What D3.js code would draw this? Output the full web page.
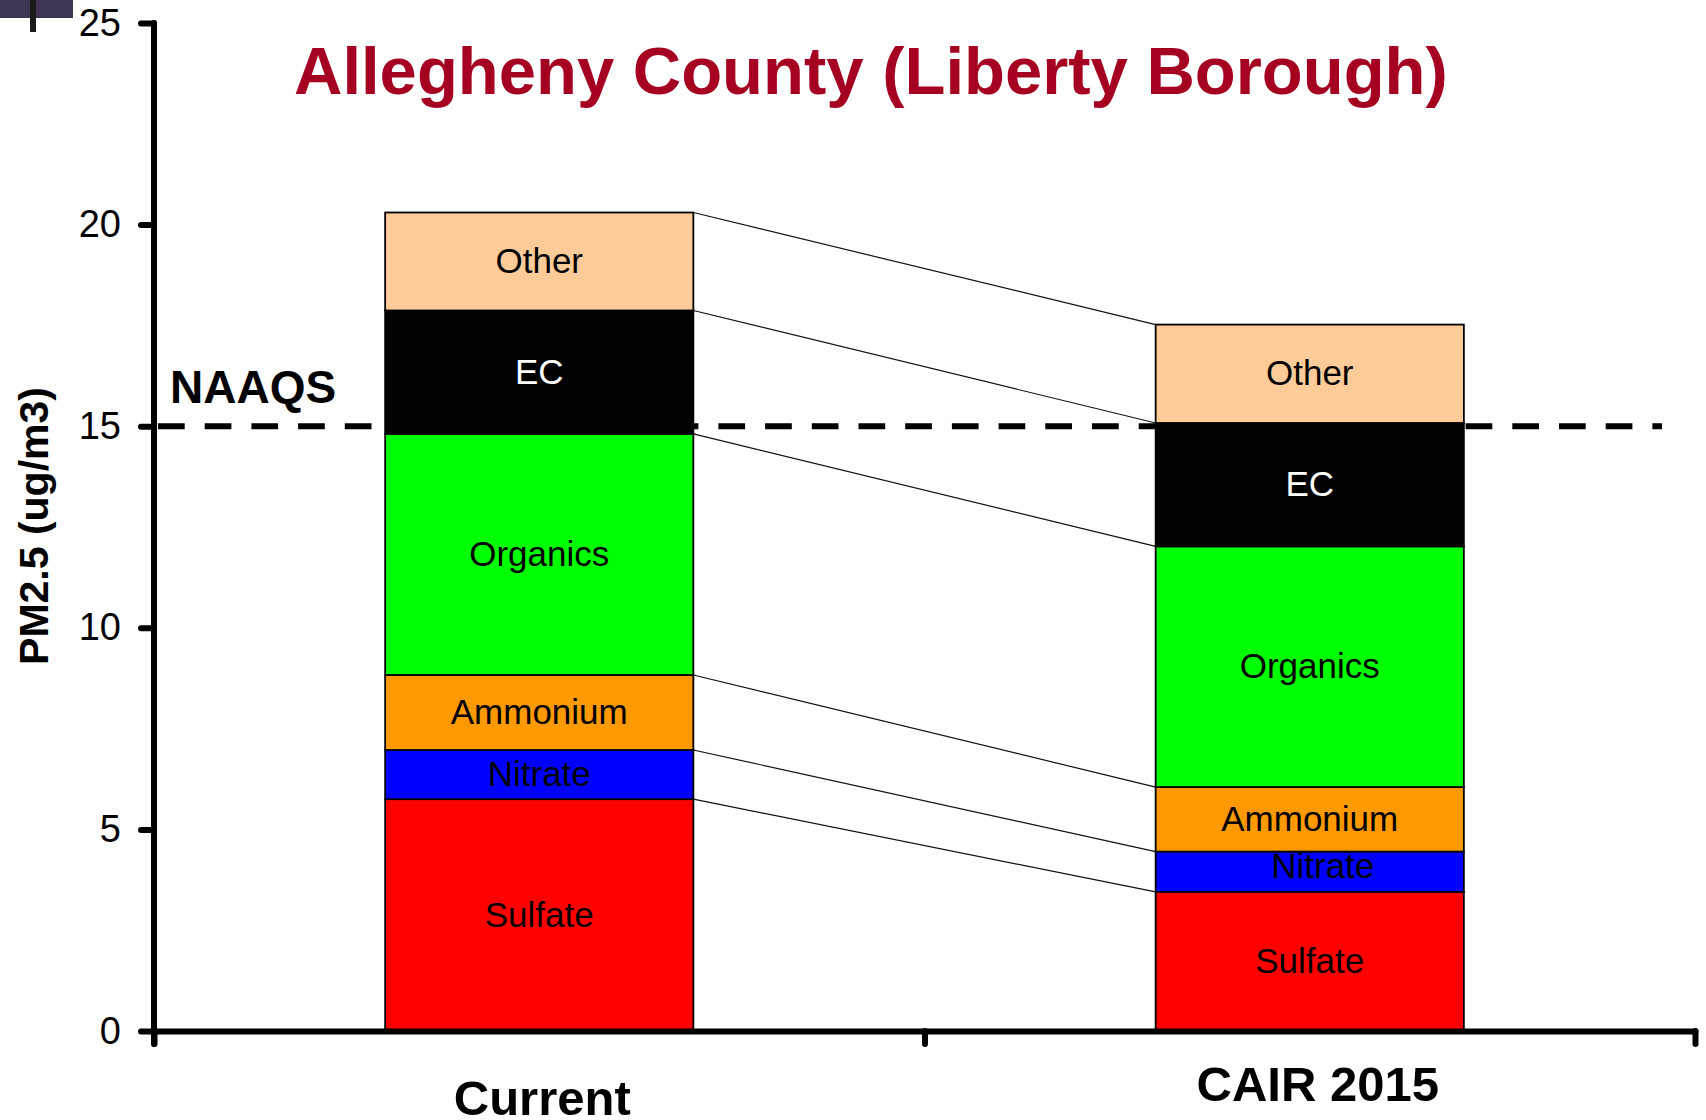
<!DOCTYPE html>
<html>
<head>
<meta charset="utf-8">
<script src="https://cdn.jsdelivr.net/npm/d3@7"></script>
<style>
    body { margin: 0; background: #fff; }
    svg { display: block; font-family: "Liberation Sans", Arial, sans-serif; }
</style>
</head>
<body>
<div id="chart"></div>
<script>
const categories = ["Current", "CAIR 2015"];
const species = ["Sulfate", "Nitrate", "Ammonium", "Organics", "EC", "Other"];
const currentValues = [5.75, 1.22, 1.86, 5.98, 3.06, 2.43];
const cairValues = [3.45, 1.00, 1.60, 5.97, 3.06, 2.44];
const speciesColors = ["#FF0000", "#0000FF", "#FF9900", "#00FF00", "#000000", "#FFCC99"];
const yTicks = [0, 5, 10, 15, 20, 25];
const naaqsLevel = 15;

function stackSeries(values) {
    var sum = 0;
    return values.map(function(v, i) {
        var seg = { name: species[i], color: speciesColors[i], y0: sum, y1: sum + v };
        sum += v;
        return seg;
    });
}

function drawChart() {
    var width = 1706,
        height = 1120;

    var svg = d3.select("#chart")
                .append("svg")
                .attr("width", width)
                .attr("height", height);

    var y = d3.scaleLinear().domain([0, 25]).range([1031, 23]);
    var x = d3.scaleBand()
              .domain(categories)
              .range([154, 1695])
              .paddingInner(0.6)
              .paddingOuter(0.3);
    var bw = x.bandwidth();

    var stacks = [stackSeries(currentValues), stackSeries(cairValues)];

    // little image scrap in the corner of the original slide
    svg.append("rect").attr("x", 0).attr("y", 0).attr("width", 73).attr("height", 18).attr("fill", "#3f3552");
    svg.append("rect").attr("x", 30).attr("y", 0).attr("width", 6).attr("height", 32).attr("fill", "#1a1a1a");

    // connector lines between the two stacks
    svg.append("g")
        .attr("class", "connectors")
        .selectAll("line")
        .data(d3.range(species.length))
        .enter()
        .append("line")
        .attr("x1", x(categories[0]) + bw)
        .attr("x2", x(categories[1]))
        .attr("y1", function(i) { return y(stacks[0][i].y1); })
        .attr("y2", function(i) { return y(stacks[1][i].y1); })
        .attr("stroke", "#111")
        .attr("stroke-width", 1.2);

    var groups = svg.append("g")
                .attr("class", "bars")
                .selectAll("g")
                .data(stacks)
                .enter()
                .append("g")
                .attr("transform", function(d, i) {
                    return "translate(" + x(categories[i]) + ",0)";
                });

    groups.selectAll("rect")
        .data(function(d) { return d; })
        .enter()
        .append("rect")
        .attr("x", 0)
        .attr("width", bw)
        .attr("y", function(d) { return y(d.y1); })
        .attr("height", function(d) { return y(d.y0) - y(d.y1); })
        .attr("fill", function(d) { return d.color; })
        .attr("stroke", "#000")
        .attr("stroke-width", 1.8);

    var nudge = { "CAIR 2015-Nitrate": [13, -5] };

    groups.each(function(stack, gi) {
        d3.select(this)
            .selectAll("text")
            .data(stack)
            .enter()
            .append("text")
            .attr("x", function(d) {
                var n = nudge[categories[gi] + "-" + d.name];
                return bw / 2 + (n ? n[0] : 0);
            })
            .attr("y", function(d) {
                var n = nudge[categories[gi] + "-" + d.name];
                return (y(d.y0) + y(d.y1)) / 2 + (n ? n[1] : 0);
            })
            .attr("dy", "0.33em")
            .attr("text-anchor", "middle")
            .attr("font-size", 35)
            .attr("fill", function(d) { return d.name === "EC" ? "#fff" : "#000"; })
            .text(function(d) { return d.name; });
    });

    // NAAQS line
    svg.append("line")
        .attr("x1", 158)
        .attr("x2", 1662)
        .attr("y1", y(naaqsLevel))
        .attr("y2", y(naaqsLevel))
        .attr("stroke", "#000")
        .attr("stroke-width", 6)
        .attr("stroke-dasharray", "26.7 20");

    svg.append("text")
        .attr("x", 170)
        .attr("y", y(naaqsLevel) - 23)
        .attr("font-size", 46)
        .attr("font-weight", "bold")
        .text("NAAQS");

    // y axis
    var yAxis = svg.append("g")
        .attr("class", "y-axis")
        .attr("transform", "translate(154,0)")
        .call(d3.axisLeft(y).tickValues(yTicks).tickSize(13).tickSizeOuter(0).tickPadding(20));
    yAxis.select(".domain").remove();
    yAxis.selectAll(".tick line")
        .attr("stroke-width", 6)
        .attr("stroke-linecap", "round");
    yAxis.selectAll(".tick text")
        .attr("font-size", 38)
        .attr("font-family", "Liberation Sans, Arial, sans-serif")
        .attr("fill", "#000");
    yAxis.append("line")
        .attr("x1", 0).attr("x2", 0)
        .attr("y1", y(25)).attr("y2", y(0) + 13)
        .attr("stroke", "#000")
        .attr("stroke-width", 6)
        .attr("stroke-linecap", "round");

    // x axis, ticks at the category boundaries
    var xEdges = d3.scaleLinear().domain([0, categories.length]).range(x.range());
    var xAxis = svg.append("g")
        .attr("class", "x-axis")
        .attr("transform", "translate(0," + y(0) + ")")
        .call(d3.axisBottom(xEdges).tickValues(d3.range(categories.length + 1)).tickSize(13).tickSizeOuter(0).tickFormat(""));
    xAxis.select(".domain")
        .attr("stroke-width", 6)
        .attr("stroke-linecap", "round");
    xAxis.selectAll(".tick line")
        .attr("stroke-width", 6)
        .attr("stroke-linecap", "round");

    var catShift = [[3, 1115], [8, 1101]];
    svg.append("g")
        .selectAll("text")
        .data(categories)
        .enter()
        .append("text")
        .attr("x", function(d, i) { return x(d) + bw / 2 + catShift[i][0]; })
        .attr("y", function(d, i) { return catShift[i][1]; })
        .attr("text-anchor", "middle")
        .attr("font-size", 49)
        .attr("font-weight", "bold")
        .text(function(d) { return d; });

    svg.append("text")
        .attr("transform", "translate(48,526) rotate(-90)")
        .attr("text-anchor", "middle")
        .attr("font-size", 41)
        .attr("font-weight", "bold")
        .text("PM2.5 (ug/m3)");

    svg.append("text")
        .attr("x", 294)
        .attr("y", 94)
        .attr("font-size", 67)
        .attr("font-weight", "bold")
        .attr("fill", "#A50021")
        .text("Allegheny County (Liberty Borough)");
}

drawChart();
</script>
</body>
</html>
